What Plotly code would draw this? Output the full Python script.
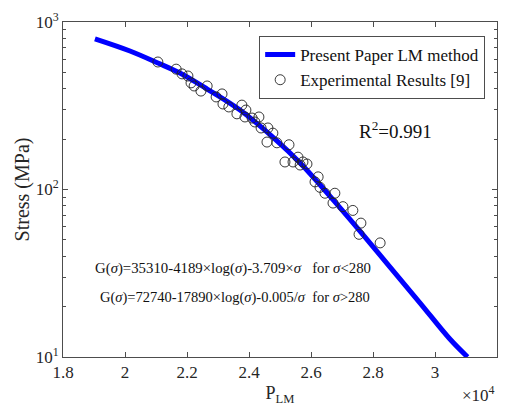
import plotly.graph_objects as go

# Model curve (P_LM, stress)
curve_p = [19030, 20160, 21060, 21770, 22650, 23710, 24840, 25650, 26610, 27580, 28550, 29520, 30480, 31050]
curve_s = [793, 671, 569, 496, 398, 298, 200, 144, 91.4, 56.5, 34.4, 21.0, 12.8, 10.0]

# Experimental results [9]
exp_p = [21060, 21650, 21840, 22030, 22130, 22230, 22450, 22650, 22940, 23130, 23160, 23350,
         23610, 23770, 23900, 23870, 24100, 24190, 24320, 24390, 24610, 24770, 24580, 24900,
         25290, 25160, 25420, 25580, 25740, 25870, 25650, 26130, 26230, 26290, 26450, 26770,
         26710, 27030, 27350, 27610, 27550, 28230]
exp_s = [577, 523, 490, 476, 433, 415, 387, 415, 357, 372, 324, 311,
         283, 319, 298, 271, 267, 253, 271, 233, 233, 217, 192, 190,
         185, 146, 146, 156, 146, 142, 140, 111, 119, 103, 95, 95,
         83, 79, 75, 63, 54, 48]

x_tickvals = [18000, 20000, 22000, 24000, 26000, 28000, 30000, 32000]
x_ticktext = ["1.8", "2", "2.2", "2.4", "2.6", "2.8", "3", "3.2"]
y_tickvals = [10, 100, 1000]
y_ticktext = ["10<sup>1</sup>", "10<sup>2</sup>", "10<sup>3</sup>"]
y_minor = [m * d for d in (10, 100) for m in range(2, 10)]

FONT = "Liberation Serif"
AX = "#4d4d4d"

fig = go.Figure()
fig.add_trace(go.Scatter(x=curve_p, y=curve_s, mode="lines", line=dict(color="#0000ff", width=5, shape="spline"),
                         name="Present Paper LM method"))
fig.add_trace(go.Scatter(x=exp_p, y=exp_s, mode="markers",
                         marker=dict(symbol="circle-open", size=10, color="#222222", line=dict(width=0.9)),
                         name="Experimental Results [9]"))

fig.update_layout(
    width=507, height=406,
    margin=dict(l=63, r=10, t=22, b=49),
    paper_bgcolor="white", plot_bgcolor="white",
    font=dict(family=FONT, size=17, color="#262626"),
    showlegend=True,
    legend=dict(x=0.452, y=0.958, xanchor="left", yanchor="top",
                bordercolor=AX, borderwidth=1, bgcolor="white",
                font=dict(size=17, family=FONT, color="#111"),
                tracegroupgap=0, itemwidth=30),
    xaxis=dict(range=[18000, 32000], tickvals=x_tickvals, ticktext=x_ticktext, automargin=False,
               ticks="inside", ticklen=5, tickcolor=AX, showline=True, linecolor=AX, linewidth=1,
               mirror="ticks", showgrid=False, zeroline=False,
               title=dict(text="P<sub>LM</sub>", standoff=8, font=dict(size=18))),
    yaxis=dict(type="log", range=[1, 3], tickvals=y_tickvals, ticktext=y_ticktext, automargin=False,
               ticks="inside", ticklen=5, tickcolor=AX, showline=True, linecolor=AX, linewidth=1,
               mirror="ticks", showgrid=False, zeroline=False,
               minor=dict(tickmode="array", tickvals=y_minor, ticks="inside", ticklen=3,
                          tickcolor=AX, showgrid=False),
               title=dict(text="Stress (MPa)", standoff=0, font=dict(size=20))),
)

fig.add_annotation(x=0.765, y=0.678, xref="paper", yref="paper", text="R<sup>2</sup>=0.991",
                   showarrow=False, font=dict(size=19, family=FONT, color="#111"), xanchor="center", yanchor="middle")
fig.add_annotation(x=0.068, y=0.265, xref="paper", yref="paper",
                   text="G(<i>σ</i>)=35310-4189×log(<i>σ</i>)-3.709×<i>σ</i>   for <i>σ</i>&lt;280",
                   showarrow=False, font=dict(size=14.8, family=FONT, color="#111"), xanchor="left", yanchor="middle")
fig.add_annotation(x=0.08, y=0.178, xref="paper", yref="paper",
                   text="G(<i>σ</i>)=72740-17890×log(<i>σ</i>)-0.005/<i>σ</i>  for <i>σ</i>&gt;280",
                   showarrow=False, font=dict(size=14.5, family=FONT, color="#111"), xanchor="left", yanchor="middle")
fig.add_annotation(x=1.0, y=-0.148, xref="paper", yref="paper", text="×10<sup>4</sup>",
                   showarrow=False, font=dict(size=17, family=FONT, color="#262626"), xanchor="right", yanchor="bottom")

fig.write_html("out.html")
